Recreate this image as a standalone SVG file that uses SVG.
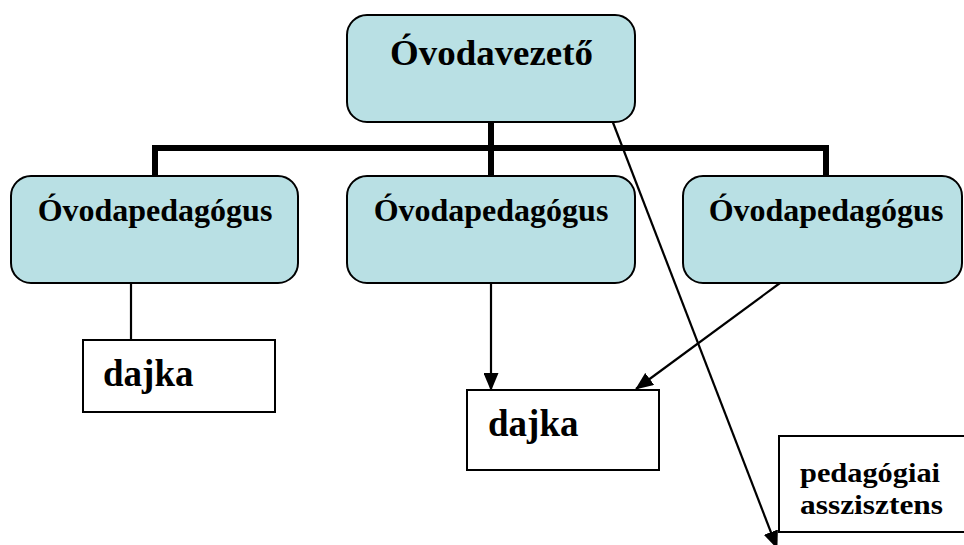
<svg xmlns="http://www.w3.org/2000/svg" width="964" height="545" viewBox="0 0 964 545">
<style>
.rbox{fill:#b9e0e4;stroke:#000;stroke-width:2}
.wbox{fill:#fff;stroke:#000;stroke-width:2}
.t{font-family:"Liberation Serif","Times New Roman",serif;font-weight:700;fill:#000}
.thick{stroke:#000;stroke-width:6;fill:none}
.thin{stroke:#000;stroke-width:2.2;fill:none}
</style>
<defs>
<marker id="ah" markerWidth="18" markerHeight="15" refX="17" refY="7.5" orient="auto" markerUnits="userSpaceOnUse">
<path d="M0,0 L18,7.5 L0,15 Z" fill="#000"/>
</marker>
</defs>
<rect width="964" height="545" fill="#fff"/>
<g id="connectors">
<path class="thick" d="M491,122 V176 M155,148 H829 M155,145 V176 M826,145 V176"/>
<path class="thin" d="M131,283 V340"/>
<path class="thin" d="M491,283 V390" marker-end="url(#ah)"/>
<path class="thin" d="M780,283 L636,389" marker-end="url(#ah)"/>
<path class="thin" d="M612,120 L777,548" marker-end="url(#ah)"/>
</g>
<g id="n-vezeto">
<rect class="rbox" x="347" y="15" width="288" height="107" rx="20"/>
<text class="t" x="390" y="65" font-size="35" textLength="203" lengthAdjust="spacingAndGlyphs">Óvodavezető</text>
</g>
<g id="n-ped1">
<rect class="rbox" x="11" y="176" width="287" height="107" rx="20"/>
<text class="t" x="155" y="221" font-size="32" text-anchor="middle">Óvodapedagógus</text>
</g>
<g id="n-ped2">
<rect class="rbox" x="347" y="176" width="288" height="107" rx="20"/>
<text class="t" x="491" y="221" font-size="32" text-anchor="middle">Óvodapedagógus</text>
</g>
<g id="n-ped3">
<rect class="rbox" x="683" y="176" width="279" height="107" rx="20"/>
<text class="t" x="826" y="221" font-size="32" text-anchor="middle">Óvodapedagógus</text>
</g>
<g id="n-dajka1">
<rect class="wbox" x="83" y="340" width="192" height="72"/>
<text class="t" x="103" y="386" font-size="37">dajka</text>
</g>
<g id="n-dajka2">
<rect class="wbox" x="467" y="390" width="192" height="80"/>
<text class="t" x="488" y="436" font-size="37">dajka</text>
</g>
<g id="n-asszisztens">
<rect class="wbox" x="779" y="436" width="195" height="96"/>
<text class="t" x="800" y="482" font-size="28" textLength="140" lengthAdjust="spacingAndGlyphs">pedagógiai</text>
<text class="t" x="800" y="514" font-size="28" textLength="143" lengthAdjust="spacingAndGlyphs">asszisztens</text>
</g>
</svg>
